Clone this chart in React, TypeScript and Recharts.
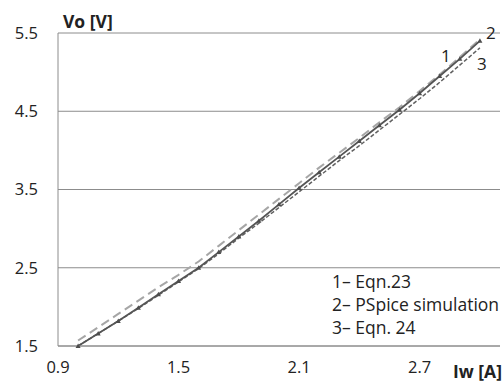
import React from 'react';
import { LineChart, Line, XAxis, YAxis, CartesianGrid } from 'recharts';

const currents = [1.0, 1.1, 1.2, 1.3, 1.4, 1.5, 1.6, 1.7, 1.8, 1.9, 2.0, 2.1, 2.2, 2.3, 2.4, 2.5, 2.6, 2.7, 2.8, 2.9, 3.0];
const eqn23 = [1.57, 1.74, 1.91, 2.08, 2.25, 2.41, 2.58, 2.78, 2.98, 3.18, 3.38, 3.58, 3.78, 3.97, 4.16, 4.36, 4.55, 4.76, 4.97, 5.19, 5.42];
const pspice = [1.5, 1.66, 1.82, 1.99, 2.16, 2.33, 2.5, 2.7, 2.9, 3.1, 3.31, 3.52, 3.72, 3.92, 4.12, 4.32, 4.52, 4.73, 4.95, 5.17, 5.4];
const eqn24 = [1.5, 1.66, 1.82, 1.98, 2.15, 2.32, 2.49, 2.68, 2.88, 3.07, 3.27, 3.47, 3.67, 3.87, 4.06, 4.26, 4.46, 4.66, 4.87, 5.09, 5.31];
const xTicks = [0.9, 1.5, 2.1, 2.7];
const yTicks = [1.5, 2.5, 3.5, 4.5, 5.5];
const legendLines = ['1\u2013 Eqn.23', '2\u2013 PSpice simulation', '3\u2013 Eqn. 24'];

const data = currents.map((I, i) => ({ I, s1: eqn23[i], s2: pspice[i], s3: eqn24[i] }));

const FONT = "'Open Sans', 'Noto Sans', sans-serif";
const last = currents.length - 1;

const Tri = (props: any) => {
  const { cx, cy } = props;
  if (cx == null || cy == null) return null;
  return <path d={`M${cx - 2.5},${cy + 2} L${cx + 2.5},${cy + 2} L${cx},${cy - 2.5} Z`} fill="#4d4d4d" />;
};

const makeEndLabel = (text: string, dx: number, dy: number) => (props: any) => {
  const { x, y, index } = props;
  if (index !== last) return null;
  return (
    <text x={x + dx} y={y + dy} fontSize={17} fontFamily={FONT} fill="#222" textAnchor="middle" dominantBaseline="central">
      {text}
    </text>
  );
};

export default function App() {
  return (
    <div style={{ position: 'fixed', left: 0, top: 0, width: 503, height: 385, background: '#fff' }}>
      <LineChart width={503} height={385} data={data} margin={{ top: 33, right: 3, bottom: 9, left: 0 }}>
        <CartesianGrid vertical={false} stroke="#8c8c8c" strokeWidth={1} />
        <XAxis
          dataKey="I"
          type="number"
          domain={[0.9, 3.1]}
          ticks={xTicks}
          tickFormatter={(v: number) => v.toFixed(1)}
          height={30}
          axisLine={{ stroke: '#8c8c8c' }}
          tickLine={false}
          tickSize={0}
          tickMargin={15}
          tick={{ fontSize: 16.5, fontFamily: FONT, fill: '#222' }}
        />
        <YAxis
          type="number"
          domain={[1.5, 5.5]}
          ticks={yTicks}
          tickFormatter={(v: number) => v.toFixed(1)}
          width={58}
          axisLine={{ stroke: '#8c8c8c' }}
          tickLine={false}
          tickSize={0}
          tickMargin={20}
          tick={{ fontSize: 16.5, fontFamily: FONT, fill: '#222' }}
        />
        <Line dataKey="s1" stroke="#a6a6a6" strokeWidth={2} strokeDasharray="9 5" dot={false} isAnimationActive={false} label={makeEndLabel('1', -34, 16)} />
        <Line dataKey="s3" stroke="#606060" strokeWidth={1.5} strokeDasharray="4 2" dot={false} isAnimationActive={false} label={makeEndLabel('3', 2, 16)} />
        <Line dataKey="s2" stroke="#555555" strokeWidth={1.8} dot={<Tri />} isAnimationActive={false} label={makeEndLabel('2', 11, -8)} />
      </LineChart>
      <div style={{ position: 'absolute', left: 63, top: 9, fontFamily: FONT, fontWeight: 700, fontSize: 17.5, color: '#222', whiteSpace: 'nowrap' }}>Vo [V]</div>
      <div style={{ position: 'absolute', left: 453, top: 359, fontFamily: FONT, fontWeight: 700, fontSize: 17.5, color: '#222', whiteSpace: 'nowrap' }}>Iw [A]</div>
      <div style={{ position: 'absolute', left: 332, top: 270, fontFamily: FONT, fontSize: 17.5, color: '#222', lineHeight: '23px', whiteSpace: 'nowrap' }}>
        {legendLines.map((t) => (
          <div key={t}>{t}</div>
        ))}
      </div>
    </div>
  );
}
